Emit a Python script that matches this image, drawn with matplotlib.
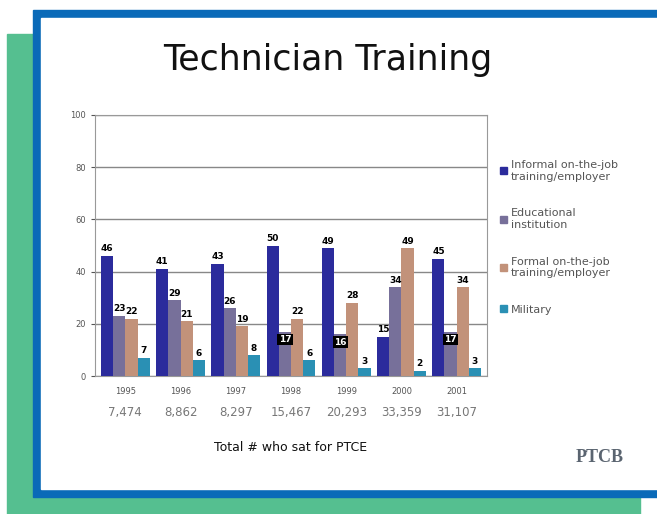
import matplotlib.pyplot as plt
import numpy as np
from matplotlib.patches import Rectangle

years = ["1995", "1996", "1997", "1998", "1999", "2000", "2001"]
totals = ["7,474", "8,862", "8,297", "15,467", "20,293", "33,359", "31,107"]
informal = [46, 41, 43, 50, 49, 15, 45]
educational = [23, 29, 26, 17, 16, 34, 17]
formal = [22, 21, 19, 22, 28, 49, 34]
military = [7, 6, 8, 6, 3, 2, 3]
names = ["Informal on-the-job\ntraining/employer", "Educational\ninstitution",
         "Formal on-the-job\ntraining/employer", "Military"]
colors = ["#2b2b9c", "#77709a", "#c2927a", "#2a90b4"]

fig = plt.figure(figsize=(6.57, 5.14), dpi=100)
W, H = 657, 514

def px(x0, y0, x1, y1, **kw):
    fig.patches.append(Rectangle((x0 / W, 1 - y1 / H), (x1 - x0) / W, (y1 - y0) / H,
                                 transform=fig.transFigure, figure=fig, **kw))

# slide frame
px(7, 34, 640, 514, color="#55bf90", zorder=0)
px(33, 10, 670, 497, color="#0a6ab8", zorder=1)
px(41, 18, 670, 489, color="white", zorder=2)

fig.text(328 / W, 1 - 60 / H, "Technician Training", ha="center", va="center",
         fontsize=25, color="#111111", zorder=5)

ax = fig.add_axes([95 / W, 1 - 376 / H, (487 - 95) / W, (376 - 115) / H], zorder=5)
ax.set_facecolor("white")
x = np.arange(len(years))
series = [informal, educational, formal, military]
bw = 0.22
for i, (vals, c) in enumerate(zip(series, colors)):
    pos = x - 1.5 * bw + i * bw
    ax.bar(pos, vals, bw, color=c, zorder=3)
    for p, v in zip(pos, vals):
        if i == 1 and v < 20:
            ax.text(p, v - 3, str(v), ha="center", va="center", fontsize=6.5,
                    fontweight="bold", color="white", zorder=4,
                    bbox=dict(boxstyle="square,pad=0.15", fc="black", ec="none"))
        else:
            ax.text(p, v + 1, str(v), ha="center", va="bottom", fontsize=6.5,
                    fontweight="bold", color="black", zorder=4)

ax.set_ylim(0, 100)
ax.set_xlim(-0.55, len(years) - 0.45)
ax.set_yticks(range(0, 101, 20))
ax.yaxis.grid(True, color="#888888", linewidth=1)
ax.set_axisbelow(True)
ax.tick_params(axis="y", labelsize=6, colors="#555555", length=3)
ax.set_xticks(x)
ax.set_xticklabels(years, fontsize=6, color="#555555")
ax.tick_params(axis="x", length=0, pad=8)
for s in ax.spines.values():
    s.set_color("#999999")

trans = ax.get_xaxis_transform()
for xi, t in zip(x, totals):
    ax.text(xi, -0.14, t, transform=trans, ha="center", va="center",
            fontsize=8.5, color="#777777")
ax.text(3, -0.275, "Total # who sat for PTCE", transform=trans, ha="center",
        va="center", fontsize=9, color="#111111")

handles = [Rectangle((0, 0), 1, 1, color=c) for c in colors]
fig.legend(handles, names, loc="upper left", bbox_to_anchor=(490 / W, 1 - 150 / H),
           frameon=False, fontsize=8, handlelength=0.6, handleheight=0.6,
           labelspacing=2.4, handletextpad=0.4, labelcolor="#555555")

fig.text(600 / W, 1 - 458 / H, "PTCB", ha="center", va="center", fontsize=13,
         fontweight="bold", color="#5a6470", family="Liberation Serif", zorder=5)

fig.savefig("out.png", dpi=100)
